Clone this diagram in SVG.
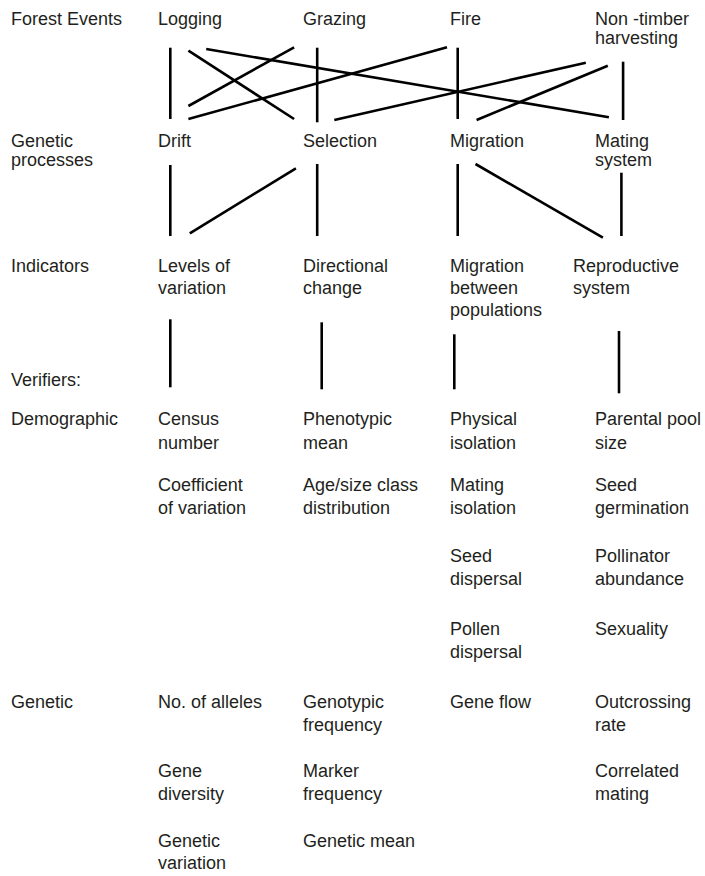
<svg xmlns="http://www.w3.org/2000/svg" width="705" height="876" viewBox="0 0 705 876">
<style>
text{font-family:"Liberation Sans",Arial,sans-serif;font-size:18px;fill:#231f20}
.c line{stroke:#000;stroke-width:2.6;stroke-linecap:butt}
</style>
<rect width="705" height="876" fill="#fff"/>
<g id="row-labels">
<g id="lbl-forest"><text x="11" y="25">Forest Events</text></g>
<g id="lbl-genetic-processes"><text x="11" y="146.5">Genetic<tspan x="11" y="165.5">processes</tspan></text></g>
<g id="lbl-indicators"><text x="11" y="271.7">Indicators</text></g>
<g id="lbl-verifiers"><text x="11" y="386">Verifiers:</text></g>
<g id="lbl-demographic"><text x="11" y="425">Demographic</text></g>
<g id="lbl-genetic"><text x="11" y="708.3">Genetic</text></g>
</g>
<g id="n-logging"><text x="158" y="25">Logging</text></g>
<g id="n-grazing"><text x="303" y="25">Grazing</text></g>
<g id="n-fire"><text x="450" y="25">Fire</text></g>
<g id="n-nontimber"><text x="595" y="25">Non -timber<tspan x="595" y="44.3">harvesting</tspan></text></g>
<g id="n-drift"><text x="158" y="146.5">Drift</text></g>
<g id="n-selection"><text x="303" y="146.5">Selection</text></g>
<g id="n-migration"><text x="450" y="146.5">Migration</text></g>
<g id="n-mating"><text x="595" y="146.5">Mating<tspan x="595" y="165.5">system</tspan></text></g>
<g id="n-levels"><text x="158" y="271.7">Levels of<tspan x="158" y="293.5">variation</tspan></text></g>
<g id="n-directional"><text x="303" y="271.7">Directional<tspan x="303" y="293.5">change</tspan></text></g>
<g id="n-migbetween"><text x="450" y="271.7">Migration<tspan x="450" y="293.5">between</tspan><tspan x="450" y="315.5">populations</tspan></text></g>
<g id="n-reproductive"><text x="573" y="271.7">Reproductive<tspan x="573" y="293.5">system</tspan></text></g>
<g id="v-census"><text x="158" y="425">Census<tspan x="158" y="448.5">number</tspan></text></g>
<g id="v-coefficient"><text x="158" y="491">Coefficient<tspan x="158" y="514">of variation</tspan></text></g>
<g id="v-phenotypic"><text x="303" y="425">Phenotypic<tspan x="303" y="448.5">mean</tspan></text></g>
<g id="v-agesize"><text x="303" y="491">Age/size class<tspan x="303" y="514">distribution</tspan></text></g>
<g id="v-physical"><text x="450" y="425">Physical<tspan x="450" y="448.5">isolation</tspan></text></g>
<g id="v-matingiso"><text x="450" y="491">Mating<tspan x="450" y="514">isolation</tspan></text></g>
<g id="v-seeddisp"><text x="450" y="561.7">Seed<tspan x="450" y="584.5">dispersal</tspan></text></g>
<g id="v-pollendisp"><text x="450" y="635">Pollen<tspan x="450" y="657.5">dispersal</tspan></text></g>
<g id="v-geneflow"><text x="450" y="708.3">Gene flow</text></g>
<g id="v-parental"><text x="595" y="425">Parental pool<tspan x="595" y="448.5">size</tspan></text></g>
<g id="v-seedgerm"><text x="595" y="491">Seed<tspan x="595" y="514">germination</tspan></text></g>
<g id="v-pollinator"><text x="595" y="561.7">Pollinator<tspan x="595" y="584.5">abundance</tspan></text></g>
<g id="v-sexuality"><text x="595" y="635">Sexuality</text></g>
<g id="v-outcrossing"><text x="595" y="708.3">Outcrossing<tspan x="595" y="730.5">rate</tspan></text></g>
<g id="v-correlated"><text x="595" y="777.3">Correlated<tspan x="595" y="799.5">mating</tspan></text></g>
<g id="v-alleles"><text x="158" y="708.3">No. of alleles</text></g>
<g id="v-genediv"><text x="158" y="777.3">Gene<tspan x="158" y="799.5">diversity</tspan></text></g>
<g id="v-geneticvar"><text x="158" y="846.7">Genetic<tspan x="158" y="869">variation</tspan></text></g>
<g id="v-genotypic"><text x="303" y="708.3">Genotypic<tspan x="303" y="730.5">frequency</tspan></text></g>
<g id="v-marker"><text x="303" y="777.3">Marker<tspan x="303" y="799.5">frequency</tspan></text></g>
<g id="v-geneticmean"><text x="303" y="846.7">Genetic mean</text></g>
<g id="connectors" class="c">
<line x1="170.3" y1="47.7" x2="170.3" y2="119"/>
<line x1="317.2" y1="47.7" x2="317.2" y2="122.3"/>
<line x1="457.7" y1="47.7" x2="457.7" y2="119"/>
<line x1="623.1" y1="61.7" x2="623.1" y2="120"/>
<line x1="188.4" y1="50.7" x2="294.1" y2="119"/>
<line x1="206.2" y1="49" x2="608.9" y2="117.3"/>
<line x1="294.1" y1="47.3" x2="188.4" y2="106"/>
<line x1="447" y1="47.3" x2="188.4" y2="119"/>
<line x1="585.8" y1="62.7" x2="334.3" y2="120"/>
<line x1="607.8" y1="65.7" x2="476.6" y2="120"/>
<line x1="170.3" y1="165" x2="170.3" y2="236"/>
<line x1="295.9" y1="168.3" x2="189.8" y2="233.3"/>
<line x1="317.2" y1="164" x2="317.2" y2="236"/>
<line x1="457.7" y1="164" x2="457.7" y2="236"/>
<line x1="475.5" y1="164" x2="602.9" y2="237.7"/>
<line x1="621.4" y1="172.7" x2="621.4" y2="236"/>
<line x1="170.3" y1="319.3" x2="170.3" y2="387.3"/>
<line x1="321.7" y1="322.3" x2="321.7" y2="389.3"/>
<line x1="454.3" y1="334.3" x2="454.3" y2="389.3"/>
<line x1="619" y1="331" x2="619" y2="393.3"/>
</g>
</svg>
